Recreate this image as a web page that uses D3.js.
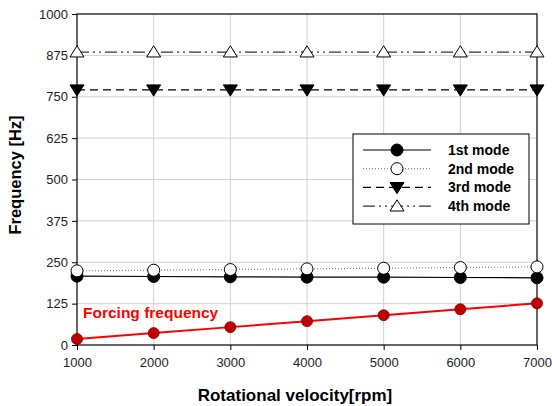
<!DOCTYPE html>
<html lang="en">
<head>
<meta charset="UTF-8">
<script src="https://d3js.org/d3.v7.min.js"></script>
<style>
  body { margin: 0; background: #fff; }
  text { font-family: "Liberation Sans", Arial, sans-serif; }
</style>
</head>
<body>
<div id="chart"></div>
<script>
// Data
const rpm = [1000, 2000, 3000, 4000, 5000, 6000, 7000];
const mode1 = [208, 207, 206, 205, 205, 204, 203];
const mode2 = [224, 226, 228, 230, 232, 234, 236];
const mode3 = [771, 771, 771, 771, 771, 771, 771];
const mode4 = [885, 885, 885, 885, 885, 885, 885];
const forcing = [18, 36, 54, 72, 90, 108, 126];
const yTicks = [0, 125, 250, 375, 500, 625, 750, 875, 1000];

const width = 552, height = 406;
const margin = { left: 77, right: 15, top: 14, bottom: 61 };

const svg = d3.select("#chart").append("svg")
  .attr("width", width).attr("height", height);

const x = d3.scaleLinear().domain([1000, 7000]).range([margin.left, width - margin.right]);
const y = d3.scaleLinear().domain([0, 1000]).range([height - margin.bottom, margin.top]);

// Grid
svg.append("g").selectAll("line").data(yTicks.slice(1, -1)).join("line")
  .attr("x1", x(1000)).attr("x2", x(7000))
  .attr("y1", d => y(d)).attr("y2", d => y(d))
  .attr("stroke", "#d0d0d0").attr("stroke-width", 1);
svg.append("g").selectAll("line").data(rpm.slice(1, -1)).join("line")
  .attr("x1", d => x(d)).attr("x2", d => x(d))
  .attr("y1", y(0)).attr("y2", y(1000))
  .attr("stroke", "#d0d0d0").attr("stroke-width", 1);

// Frame
svg.append("rect")
  .attr("x", x(1000)).attr("y", y(1000))
  .attr("width", x(7000) - x(1000)).attr("height", y(0) - y(1000))
  .attr("fill", "none").attr("stroke", "#000").attr("stroke-width", 1.2);

// Axes
const yAxis = svg.append("g").attr("transform", `translate(${x(1000)},0)`)
  .call(d3.axisLeft(y).tickValues(yTicks).tickFormat(d3.format("d")).tickSize(5).tickPadding(4));
const xAxis = svg.append("g").attr("transform", `translate(0,${y(0)})`)
  .call(d3.axisBottom(x).tickValues(rpm).tickFormat(d3.format("d")).tickSize(5).tickPadding(8));
[yAxis, xAxis].forEach(a => {
  a.select(".domain").remove();
  a.selectAll("line").attr("stroke", "#000");
  a.selectAll("text").attr("font-size", 13).attr("fill", "#222")
    .style("font-family", "'Liberation Sans', Arial, sans-serif");
});

// Series
const series = [
  { name: "1st mode", values: mode1, dash: null, color: "#000", marker: "circle", fill: "#000" },
  { name: "2nd mode", values: mode2, dash: "1,2", color: "#888", marker: "circle", fill: "#fff" },
  { name: "3rd mode", values: mode3, dash: "8,5", color: "#000", marker: "down", fill: "#000" },
  { name: "4th mode", values: mode4, dash: "12,4,2,4,2,4", color: "#333", marker: "up", fill: "#fff" }
];

const line = d3.line().x((d, i) => x(rpm[i])).y(d => y(d));

function drawMarker(g, type, fill, cx, cy) {
  if (type === "circle") {
    g.append("circle").attr("cx", cx).attr("cy", cy).attr("r", 6)
      .attr("fill", fill).attr("stroke", "#000").attr("stroke-width", 1);
  } else {
    const s = 7;
    const pts = type === "down"
      ? [[cx - s, cy - s * 0.7], [cx + s, cy - s * 0.7], [cx, cy + s * 0.9]]
      : [[cx - s, cy + s * 0.7], [cx + s, cy + s * 0.7], [cx, cy - s * 0.9]];
    g.append("path").attr("d", "M" + pts.join("L") + "Z")
      .attr("fill", fill).attr("stroke", "#000").attr("stroke-width", 1);
  }
}

series.forEach(s => {
  const g = svg.append("g");
  g.append("path").datum(s.values).attr("d", line)
    .attr("fill", "none").attr("stroke", s.color).attr("stroke-width", 1.2)
    .attr("stroke-dasharray", s.dash);
  s.values.forEach((v, i) => drawMarker(g, s.marker, s.fill, x(rpm[i]), y(v)));
});

// Forcing frequency
const fg = svg.append("g");
fg.append("path").datum(forcing).attr("d", line)
  .attr("fill", "none").attr("stroke", "#ff0000").attr("stroke-width", 2);
fg.selectAll("circle").data(forcing).join("circle")
  .attr("cx", (d, i) => x(rpm[i])).attr("cy", d => y(d)).attr("r", 5.5)
  .attr("fill", "#c00000").attr("stroke", "#800000").attr("stroke-width", 0.8);
svg.append("text").attr("x", x(1000) + 6).attr("y", y(82))
  .attr("fill", "#ff0000").attr("font-size", 15.5).attr("font-weight", "bold")
  .text("Forcing frequency");

// Legend
const lg = svg.append("g").attr("transform", "translate(353,134)");
lg.append("rect").attr("width", 176).attr("height", 90)
  .attr("fill", "#fff").attr("stroke", "#000").attr("stroke-width", 1);
series.forEach((s, i) => {
  const yy = 16 + i * 18.7;
  lg.append("line").attr("x1", 10).attr("x2", 78).attr("y1", yy).attr("y2", yy)
    .attr("stroke", s.color).attr("stroke-width", 1.2).attr("stroke-dasharray", s.dash);
  drawMarker(lg, s.marker, s.fill, 44, yy);
  lg.append("text").attr("x", 95).attr("y", yy + 5)
    .attr("font-size", 14).attr("font-weight", "bold").text(s.name);
});

// Axis titles
svg.append("text").attr("x", 295).attr("y", 401)
  .attr("text-anchor", "middle").attr("font-size", 17).attr("font-weight", "bold")
  .text("Rotational velocity[rpm]");
svg.append("text").attr("transform", "translate(21,175) rotate(-90)")
  .attr("text-anchor", "middle").attr("font-size", 16.5).attr("font-weight", "bold")
  .text("Frequency [Hz]");
</script>
</body>
</html>
